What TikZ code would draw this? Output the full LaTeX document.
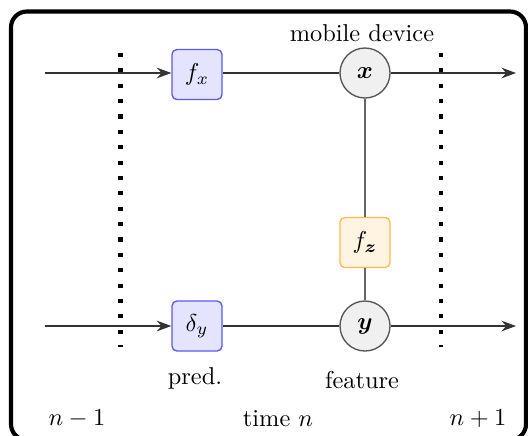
\documentclass[tikz,border=0pt]{standalone}
\usepackage{amsmath}
\usepackage{bm}
\usepackage{fontspec}
\newfontfamily\titlefont{Liberation Sans}
\usetikzlibrary{arrows.meta}
\definecolor{predfill}{HTML}{E4E4FF}
\definecolor{preddraw}{HTML}{5A5AF0}
\definecolor{featfill}{HTML}{FFF3E2}
\definecolor{featdraw}{HTML}{FFB850}
\definecolor{varfill}{HTML}{F0F0F0}
\definecolor{vardraw}{HTML}{555555}
\tikzset{
  predbox/.style={draw=preddraw, fill=predfill, rounded corners=2pt, line width=0.55pt,
    minimum width=20.5pt, minimum height=20.5pt, inner sep=0pt},
  featbox/.style={draw=featdraw, fill=featfill, rounded corners=2pt, line width=0.55pt,
    minimum width=20.5pt, minimum height=20.5pt, inner sep=0pt},
  varnode/.style={circle, draw=vardraw, fill=varfill, line width=0.55pt,
    minimum size=20.5pt, inner sep=0pt},
  flow/.style={draw=black!80, line width=0.5pt},
  flowarrow/.style={flow, -{Stealth[length=6pt, width=4.4pt, inset=2pt]}},
  link/.style={draw=black!60, line width=0.5pt},
  slice/.style={line width=1.7pt, dash pattern=on 1.7pt off 4.6pt},
  frame/.style={line width=1.7pt, rounded corners=6.5pt}
}
\begin{document}
\begin{tikzpicture}[x=0.41pt, y=-0.41pt]
  \useasboundingbox (0,0) rectangle (528,435);

  % outer frame and title
  \draw[frame] (11,11.5) rectangle (526,440);
  \node[anchor=base west, inner sep=0pt, font=\titlefont\bfseries\fontsize{15.5}{18}\selectfont]
    (title) at (186,-11.5) {graph};

  % time-slice separators
  \coordinate (sl1t) at (120.5,53);
  \coordinate (sl1b) at (120.5,347);
  \coordinate (sl2t) at (440.7,53);
  \coordinate (sl2b) at (440.7,347);
  \draw[slice] (sl1t) -- (sl1b);
  \draw[slice] (sl2t) -- (sl2b);

  % nodes
  \node[predbox] (fx) at (197,74.5) {$f_x$};
  \node[varnode] (x) at (365,73) {$\bm{x}$};
  \node[featbox] (fz) at (365,242.5) {$f_{\bm{z}}$};
  \node[predbox] (dy) at (197,326) {$\delta_y$};
  \node[varnode] (y) at (365,326) {$\bm{y}$};

  % free ends of the flows
  \coordinate (inx) at (45,73);
  \coordinate (iny) at (45,326);
  \coordinate (outx) at (516,73);
  \coordinate (outy) at (516,326);

  % connectors
  \draw[flowarrow] (inx) -- (fx.west |- inx);
  \draw[flow] (fx.east |- x) -- (x);
  \draw[flowarrow] (x) -- (outx);
  \draw[flowarrow] (iny) -- (dy);
  \draw[flow] (dy) -- (y);
  \draw[flowarrow] (y) -- (outy);
  \draw[link] (x) -- (fz);
  \draw[link] (fz) -- (y);

  % labels
  \node (lmob) at (362,33) {mobile device};
  \node (lpred) at (195,378) {pred.};
  \node (lfeat) at (362,380) {feature};
  \node (lprev) at (77,419) {$n-1$};
  \node (lnow) at (278,419) {time $n$};
  \node (lnext) at (478,419) {$n+1$};
\end{tikzpicture}
\end{document}
